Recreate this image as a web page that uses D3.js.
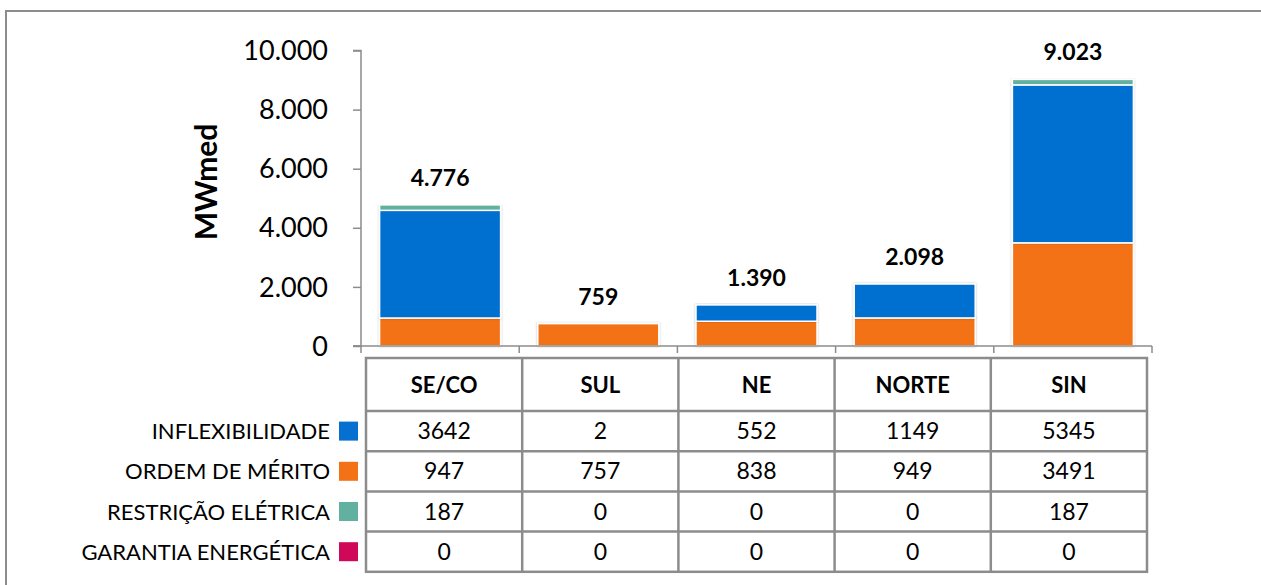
<!DOCTYPE html>
<html><head><meta charset="utf-8">
<script src="https://cdnjs.cloudflare.com/ajax/libs/d3/7.8.5/d3.min.js"></script>
<style>
html,body{margin:0;padding:0;background:#fff;}
svg{display:block;font-family:Lato,"Open Sans",sans-serif;}
</style></head>
<body>
<svg id="chart" width="1261" height="585"></svg>
<script>
const categories = ["SE/CO","SUL","NE","NORTE","SIN"];
const inflexibilidade = [3642,2,552,1149,5345];
const ordemDeMerito = [947,757,838,949,3491];
const restricaoEletrica = [187,0,0,0,187];
const garantiaEnergetica = [0,0,0,0,0];
const seriesNames = ["INFLEXIBILIDADE","ORDEM DE MÉRITO","RESTRIÇÃO ELÉTRICA","GARANTIA ENERGÉTICA"];
const seriesColors = ["#0570D0","#F47216","#62B1A0","#D0085A"];
const yTicks = [0,2000,4000,6000,8000,10000];

const seriesValues = [inflexibilidade, ordemDeMerito, restricaoEletrica, garantiaEnergetica];
const stackOrder = [1,0,2,3]; // bottom to top: mérito, inflex, restrição, garantia

const locale = d3.formatLocale({decimal:",",thousands:".",grouping:[3],currency:["R$",""]});
const fmt = locale.format(",d");

const svg = d3.select("#chart");

// outer frame
svg.append("rect").attr("x",6).attr("y",11).attr("width",1300).attr("height",620)
  .attr("fill","none").attr("stroke","#8c8c8c").attr("stroke-width",2);

const rows = categories.map((c,i)=>{
  const o={cat:c};
  seriesNames.forEach((s,j)=>o[s]=seriesValues[j][i]);
  return o;
});
const totals = categories.map((c,i)=>d3.sum(seriesValues,a=>a[i]));

const x = d3.scaleBand().domain(categories).range([361,1152]).paddingInner(0.235).paddingOuter(0.1175);
const y = d3.scaleLinear().domain([0,10000]).range([346,50.5]);

const stack = d3.stack().keys(stackOrder.map(k=>seriesNames[k]));
const stacked = stack(rows);

const defs = svg.append("defs");
const f = defs.append("filter").attr("id","sh").attr("x","-10%").attr("y","-10%").attr("width","120%").attr("height","120%");
f.append("feDropShadow").attr("dx",0).attr("dy",0).attr("stdDeviation",1.2).attr("flood-color","#000").attr("flood-opacity",0.25);

const gBars = svg.append("g");
stacked.forEach(layer=>{
  const color = seriesColors[seriesNames.indexOf(layer.key)];
  gBars.selectAll(null).data(layer.filter(d=>d[1]-d[0]>0)).enter().append("rect")
    .attr("x",d=>x(d.data.cat))
    .attr("width",x.bandwidth())
    .attr("y",d=>y(d[1]))
    .attr("height",d=>y(d[0])-y(d[1]))
    .attr("fill",color)
    .attr("stroke","#fff").attr("stroke-width",1.5)
    .attr("filter","url(#sh)");
});

// totals labels
svg.append("g").selectAll("text").data(categories).enter().append("text")
  .attr("x",d=>x(d)+x.bandwidth()/2)
  .attr("y",(d,i)=>y(totals[i])-19)
  .attr("text-anchor","middle")
  .attr("font-size",23).attr("font-weight","bold").attr("fill","#000")
  .text((d,i)=>fmt(totals[i]));

// y axis
const yAxis = d3.axisLeft(y).tickValues(yTicks).tickFormat(fmt).tickSize(8).tickPadding(25);
const gy = svg.append("g").attr("transform","translate(361,0)").call(yAxis);
gy.select(".domain").attr("stroke","#8c8c8c").attr("stroke-width",1.5).attr("d","M-8,50.5H0V346H-8");
gy.selectAll(".tick line").attr("stroke","#8c8c8c").attr("stroke-width",1.5);
gy.selectAll(".tick text").attr("font-size",27).attr("fill","#000").attr("font-family","Lato, sans-serif").attr("dy","0.34em");

// x axis line with boundary ticks
const xr = x.range(), step = x.step();
svg.append("line").attr("x1",353).attr("x2",xr[1]).attr("y1",346).attr("y2",346)
  .attr("stroke","#8c8c8c").attr("stroke-width",1.5);
svg.append("g").selectAll("line").data(d3.range(categories.length+1)).enter().append("line")
  .attr("x1",i=>xr[0]+i*step).attr("x2",i=>xr[0]+i*step)
  .attr("y1",346).attr("y2",353).attr("stroke","#8c8c8c").attr("stroke-width",1.5);

// y title
svg.append("text").attr("transform","translate(217,182) rotate(-90)")
  .attr("text-anchor","middle").attr("font-size",30).attr("font-weight","bold").attr("fill","#000")
  .text("MWmed");

// data table
const tx0 = 366, tx1 = 1147, colW = (tx1-tx0)/categories.length;
const headTop = 358, headBot = 411, rowH = 40.2;
const tb = svg.append("g");
const tableBottom = headBot + rowH*seriesNames.length;
tb.append("rect").attr("x",tx0).attr("y",headTop).attr("width",tx1-tx0).attr("height",tableBottom-headTop)
  .attr("fill","none").attr("stroke","#8c8c8c").attr("stroke-width",2.5);
d3.range(1,categories.length).forEach(i=>{
  tb.append("line").attr("x1",tx0+i*colW).attr("x2",tx0+i*colW).attr("y1",headTop).attr("y2",tableBottom)
    .attr("stroke","#8c8c8c").attr("stroke-width",2.5);
});
d3.range(0,seriesNames.length).forEach(r=>{
  tb.append("line").attr("x1",tx0).attr("x2",tx1).attr("y1",headBot+r*rowH).attr("y2",headBot+r*rowH)
    .attr("stroke","#8c8c8c").attr("stroke-width",2.5);
});
categories.forEach((c,i)=>{
  tb.append("text").attr("x",tx0+(i+0.5)*colW).attr("y",(headTop+headBot)/2+8)
    .attr("text-anchor","middle").attr("font-size",22).attr("font-weight","bold").attr("fill","#000").text(c);
});
seriesNames.forEach((s,r)=>{
  const cy = headBot + (r+0.5)*rowH;
  categories.forEach((c,i)=>{
    tb.append("text").attr("x",tx0+(i+0.5)*colW).attr("y",cy+8)
      .attr("text-anchor","middle").attr("font-size",23).attr("fill","#000").text(seriesValues[r][i]);
  });
  tb.append("rect").attr("x",339).attr("y",cy-9.5).attr("width",19).attr("height",19).attr("fill",seriesColors[r]);
  tb.append("text").attr("x",330).attr("y",cy+8).attr("text-anchor","end")
    .attr("font-size",22).attr("fill","#000").text(s);
});
</script>
</body></html>
